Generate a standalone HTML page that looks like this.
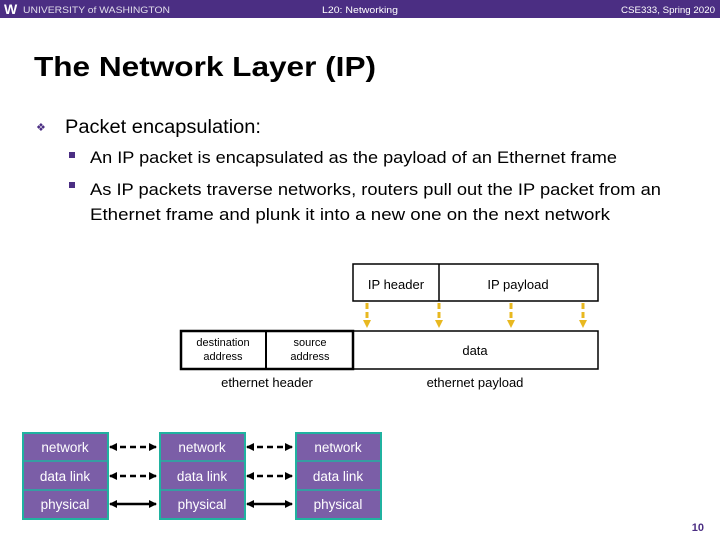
<!DOCTYPE html>
<html><head><meta charset="utf-8"><style>
body{margin:0;width:720px;height:540px;overflow:hidden;background:#fff;font-family:"Liberation Sans",sans-serif}
</style></head><body>
<svg width="720" height="540" viewBox="0 0 720 540" xmlns="http://www.w3.org/2000/svg" font-family="Liberation Sans, sans-serif">
<defs>
<marker id="ya" markerWidth="8" markerHeight="8" refX="4" refY="4" orient="auto" markerUnits="userSpaceOnUse"><path d="M0,0 L8,4 L0,8 Z" fill="#e8b820"/></marker>
<marker id="ka" markerWidth="8" markerHeight="8" refX="7" refY="4" orient="auto-start-reverse" markerUnits="userSpaceOnUse"><path d="M0,0 L8,4 L0,8 Z" fill="#000"/></marker>
</defs>
<rect x="0" y="0" width="720" height="18" fill="#4b2e83"/>
<text x="4" y="14" font-size="14" font-weight="bold" fill="#fff">W</text>
<text x="23" y="13" font-size="9" fill="#e0dcea" textLength="147" lengthAdjust="spacingAndGlyphs">UNIVERSITY of WASHINGTON</text>
<text x="322" y="13" font-size="9" fill="#fff" textLength="76" lengthAdjust="spacingAndGlyphs">L20: Networking</text>
<text x="621" y="13" font-size="9" fill="#fff" textLength="94" lengthAdjust="spacingAndGlyphs">CSE333, Spring 2020</text>
<text x="34" y="76" font-size="28" font-weight="bold" fill="#000" textLength="342" lengthAdjust="spacingAndGlyphs">The Network Layer (IP)</text>
<text x="36" y="131" font-size="11" fill="#4b2e83">❖</text>
<text x="65" y="133" font-size="19" fill="#000" textLength="196" lengthAdjust="spacingAndGlyphs">Packet encapsulation:</text>
<rect x="69" y="152" width="6" height="6" fill="#4b2e83"/>
<text x="90" y="163" font-size="16.5" textLength="527" lengthAdjust="spacingAndGlyphs">An IP packet is encapsulated as the payload of an Ethernet frame</text>
<rect x="69" y="182" width="6" height="6" fill="#4b2e83"/>
<text x="90" y="195" font-size="16.5" textLength="571" lengthAdjust="spacingAndGlyphs">As IP packets traverse networks, routers pull out the IP packet from an</text>
<text x="90" y="220" font-size="16.5" textLength="520" lengthAdjust="spacingAndGlyphs">Ethernet frame and plunk it into a new one on the next network</text>

<rect x="353" y="264" width="245" height="37" fill="#fff" stroke="#000" stroke-width="1.5"/>
<line x1="439" y1="264" x2="439" y2="301" stroke="#000" stroke-width="1.5"/>
<text x="396" y="289" font-size="13" text-anchor="middle">IP header</text>
<text x="518" y="289" font-size="13" text-anchor="middle">IP payload</text>
<g stroke="#e8b820" stroke-width="3" stroke-dasharray="6,3" marker-end="url(#ya)">
<line x1="367" y1="303" x2="367" y2="324"/><line x1="439" y1="303" x2="439" y2="324"/>
<line x1="511" y1="303" x2="511" y2="324"/><line x1="583" y1="303" x2="583" y2="324"/>
</g>
<rect x="353" y="331" width="245" height="38" fill="#fff" stroke="#000" stroke-width="1.5"/>
<rect x="181" y="331" width="172" height="38" fill="#fff" stroke="#000" stroke-width="2.5"/>
<line x1="266" y1="331" x2="266" y2="369" stroke="#000" stroke-width="2"/>
<text x="223" y="346" font-size="11" text-anchor="middle">destination</text>
<text x="223" y="360" font-size="11" text-anchor="middle">address</text>
<text x="310" y="346" font-size="11" text-anchor="middle">source</text>
<text x="310" y="360" font-size="11" text-anchor="middle">address</text>
<text x="475" y="355" font-size="13" text-anchor="middle">data</text>
<text x="267" y="387" font-size="13" text-anchor="middle">ethernet header</text>
<text x="475" y="387" font-size="13" text-anchor="middle">ethernet payload</text>

<g fill="#7b5ea7" stroke="#20b2a0" stroke-width="2">
<rect x="23" y="433" width="85" height="86"/><rect x="160" y="433" width="85" height="86"/><rect x="296" y="433" width="85" height="86"/>
</g>
<g stroke="#20b2a0" stroke-width="1.5">
<line x1="23" y1="461" x2="108" y2="461"/><line x1="23" y1="490" x2="108" y2="490"/>
<line x1="160" y1="461" x2="245" y2="461"/><line x1="160" y1="490" x2="245" y2="490"/>
<line x1="296" y1="461" x2="381" y2="461"/><line x1="296" y1="490" x2="381" y2="490"/>
</g>
<g font-size="13.5" fill="#fff" text-anchor="middle">
<text x="65" y="452">network</text><text x="65" y="481">data link</text><text x="65" y="509">physical</text>
<text x="202" y="452">network</text><text x="202" y="481">data link</text><text x="202" y="509">physical</text>
<text x="338" y="452">network</text><text x="338" y="481">data link</text><text x="338" y="509">physical</text>
</g>
<g stroke="#000" stroke-width="2.5" marker-start="url(#ka)" marker-end="url(#ka)">
<line x1="110" y1="447" x2="156" y2="447" stroke-dasharray="6,4"/>
<line x1="247" y1="447" x2="292" y2="447" stroke-dasharray="6,4"/>
<line x1="110" y1="476" x2="156" y2="476" stroke-dasharray="6,4"/>
<line x1="247" y1="476" x2="292" y2="476" stroke-dasharray="6,4"/>
<line x1="110" y1="504" x2="156" y2="504"/>
<line x1="247" y1="504" x2="292" y2="504"/>
</g>
<text x="704" y="531" font-size="11" font-weight="bold" fill="#4b2e83" text-anchor="end">10</text>
</svg>
</body></html>
